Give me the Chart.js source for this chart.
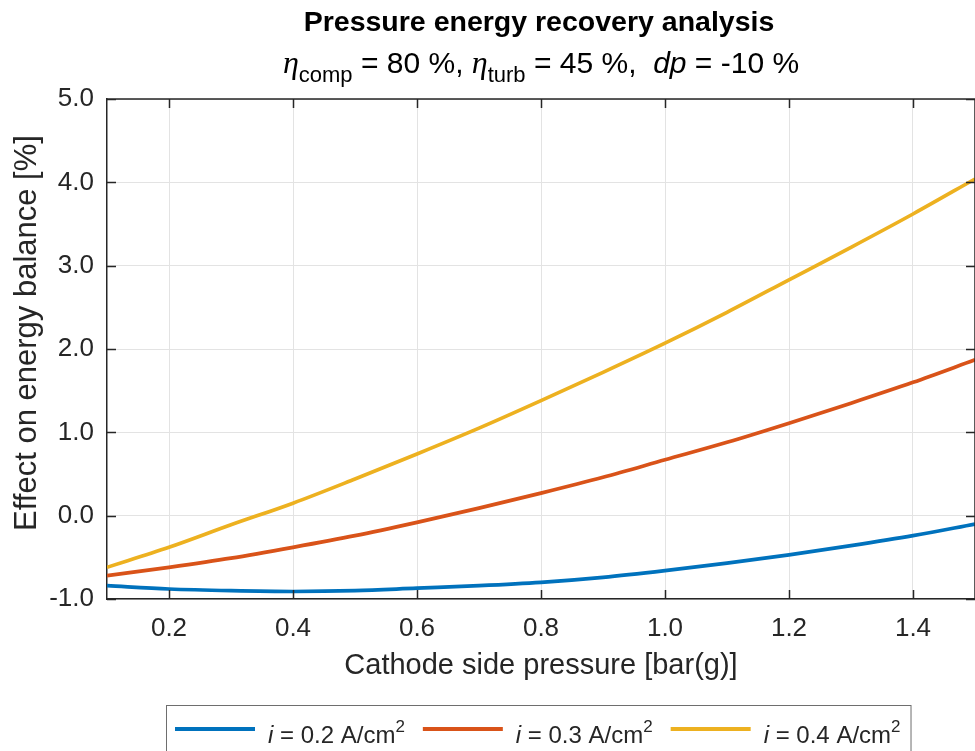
<!DOCTYPE html>
<html>
<head>
<meta charset="utf-8">
<script src="https://cdn.jsdelivr.net/npm/chart.js@4"></script>
<style>
  html, body { margin: 0; padding: 0; background: #fff; }
  canvas { display: block; }
</style>
</head>
<body>
<canvas id="graficoPresion" width="975" height="751"></canvas>
<script>
// Datos
const pressure = [0.1, 0.2, 0.3, 0.4, 0.5, 0.6, 0.7, 0.8, 0.9, 1.0, 1.1, 1.2, 1.3, 1.4, 1.5];
const effectI02 = [-0.84, -0.88, -0.90, -0.91, -0.90, -0.87, -0.84, -0.80, -0.74, -0.66, -0.57, -0.47, -0.36, -0.24, -0.10];
const effectI03 = [-0.72, -0.62, -0.51, -0.38, -0.24, -0.08, 0.09, 0.27, 0.46, 0.67, 0.88, 1.11, 1.35, 1.60, 1.87];
const effectI04 = [-0.62, -0.38, -0.11, 0.15, 0.44, 0.74, 1.05, 1.38, 1.72, 2.07, 2.44, 2.83, 3.22, 3.62, 4.04];
const currentDensities = ['0.2', '0.3', '0.4'];
const xTicks = [0.2, 0.4, 0.6, 0.8, 1.0, 1.2, 1.4];
const yTicks = [-1, 0, 1, 2, 3, 4, 5];

const titleText = 'Pressure energy recovery analysis';
const xLabel = 'Cathode side pressure [bar(g)]';
const yLabel = 'Effect on energy balance [%]';

const SANS = '"Liberation Sans", Arial, sans-serif';
const AXIS = '#262626';
const colores = ['#0072BD', '#D95319', '#EDB120'];

// dibuja un texto con partes de distinta fuente (subindices, cursiva)
function drawRuns(ctx, runs, x, y, align) {
    let total = 0;
    runs.forEach(r => { ctx.font = r.font; r.w = ctx.measureText(r.t).width; total += r.w; });
    let cx = align === 'center' ? x - total / 2 : x;
    ctx.textAlign = 'left';
    ctx.textBaseline = 'alphabetic';
    runs.forEach(r => {
        ctx.font = r.font;
        ctx.fillText(r.t, cx, y + (r.dy || 0));
        cx += r.w;
    });
    return cx;
}

const decoracion = {
    id: 'decoracion',
    afterDraw(chart) {
        const ctx = chart.ctx;
        const a = chart.chartArea;
        const xs = chart.scales.x, ys = chart.scales.y;
        ctx.save();

        // marco y marcas hacia dentro
        ctx.strokeStyle = AXIS;
        ctx.lineWidth = 1.5;
        ctx.beginPath();
        ctx.moveTo(a.left, a.top); ctx.lineTo(a.right, a.top);
        ctx.moveTo(a.right, a.top); ctx.lineTo(a.right, a.bottom);
        xTicks.forEach(v => {
            const px = Math.round(xs.getPixelForValue(v)) + 0.5;
            ctx.moveTo(px, a.bottom); ctx.lineTo(px, a.bottom - 9);
            ctx.moveTo(px, a.top); ctx.lineTo(px, a.top + 9);
        });
        yTicks.forEach(v => {
            const py = Math.round(ys.getPixelForValue(v)) + 0.5;
            ctx.moveTo(a.left, py); ctx.lineTo(a.left + 9, py);
            ctx.moveTo(a.right, py); ctx.lineTo(a.right - 9, py);
        });
        ctx.stroke();

        // titulos
        const cx = (a.left + a.right) / 2;
        ctx.fillStyle = '#000';
        drawRuns(ctx, [{t: titleText, font: 'bold 28.5px ' + SANS}], cx - 2, 31, 'center');
        const eta = 'italic 32px "Liberation Serif", "DejaVu Serif", serif';
        const main = '30px ' + SANS;
        const sub = '22px ' + SANS;
        drawRuns(ctx, [
            {t: 'η', font: eta},
            {t: 'comp', font: sub, dy: 9},
            {t: ' = 80 %, ', font: main},
            {t: 'η', font: eta},
            {t: 'turb', font: sub, dy: 9},
            {t: ' = 45 %,  ', font: main},
            {t: 'dp', font: 'italic 30px ' + SANS},
            {t: ' = -10 %', font: main}
        ], cx, 73, 'center');

        // etiquetas de ejes
        ctx.fillStyle = AXIS;
        ctx.textAlign = 'center';
        ctx.textBaseline = 'alphabetic';
        ctx.font = '29px ' + SANS;
        ctx.fillText(xLabel, cx, 674);
        ctx.save();
        ctx.font = '31px ' + SANS;
        ctx.translate(36, 333);
        ctx.rotate(-Math.PI / 2);
        ctx.fillText(yLabel, 0, 0);
        ctx.restore();

        // leyenda
        const lineY = 729;
        let x = 175;
        chart.data.datasets.forEach((ds, i) => {
            ctx.strokeStyle = ds.borderColor;
            ctx.lineWidth = 4;
            ctx.beginPath();
            ctx.moveTo(x, lineY); ctx.lineTo(x + 80, lineY);
            ctx.stroke();
            ctx.fillStyle = AXIS;
            const end = drawRuns(ctx, [
                {t: 'i', font: 'italic 24px ' + SANS},
                {t: ' = ' + currentDensities[i] + ' A/cm', font: '24px ' + SANS},
                {t: '2', font: '17px ' + SANS, dy: -11}
            ], x + 93, 743, 'left');
            x = end + 18;
        });
        ctx.strokeStyle = '#6e6e6e';
        ctx.lineWidth = 1;
        ctx.strokeRect(166.5, 705.5, x - 18 + 10 - 166, 60);

        ctx.restore();
    }
};

const ctx = document.getElementById('graficoPresion').getContext('2d');
new Chart(ctx, {
    type: 'line',
    data: {
        labels: pressure,
        datasets: [effectI02, effectI03, effectI04].map((serie, i) => ({
            label: 'i = ' + currentDensities[i] + ' A/cm²',
            data: pressure.map((p, k) => ({x: p, y: serie[k]})),
            borderColor: colores[i],
            borderWidth: 3.7,
            pointRadius: 0,
            cubicInterpolationMode: 'monotone',
            fill: false
        }))
    },
    options: {
        responsive: false,
        animation: false,
        layout: { padding: { top: 99, left: 0, right: 0, bottom: 0 } },
        plugins: {
            legend: { display: false },
            title: { display: false },
            tooltip: { enabled: false }
        },
        scales: {
            x: {
                type: 'linear',
                min: 0.1,
                max: 1.5,
                afterBuildTicks: scale => { scale.ticks = xTicks.map(v => ({value: v})); },
                afterFit: scale => { scale.height = 152; },
                ticks: {
                    callback: v => v.toFixed(1),
                    font: { family: SANS, size: 26 },
                    color: AXIS,
                    padding: 14,
                    maxRotation: 0
                },
                grid: { color: '#e3e3e3', lineWidth: 1, drawTicks: false },
                border: { display: true, color: AXIS, width: 1.5 }
            },
            y: {
                min: -1,
                max: 5,
                afterBuildTicks: scale => { scale.ticks = yTicks.map(v => ({value: v})); },
                afterFit: scale => { scale.width = 107; },
                ticks: {
                    callback: v => v.toFixed(1),
                    font: { family: SANS, size: 26 },
                    color: AXIS,
                    padding: 13
                },
                grid: { color: '#e3e3e3', lineWidth: 1, drawTicks: false },
                border: { display: true, color: AXIS, width: 1.5 }
            }
        }
    },
    plugins: [decoracion]
});
</script>
</body>
</html>
